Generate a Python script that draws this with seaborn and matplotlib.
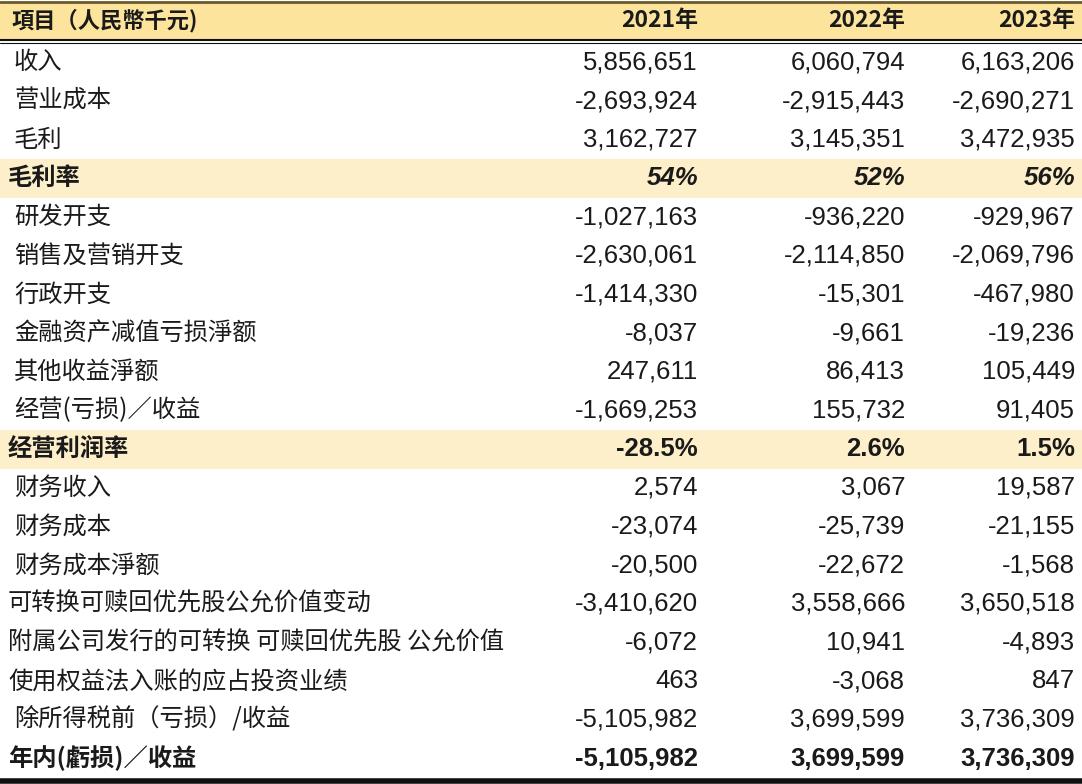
import matplotlib
matplotlib.use("Agg")
import matplotlib.pyplot as plt
import seaborn as sns

sns.set_theme(style="white", rc={"font.family": "Noto Sans CJK SC"})

header = ["項目（人民幣千元)", "2021年", "2022年", "2023年"]
items = ["收入", "营业成本", "毛利", "毛利率", "研发开支", "销售及营销开支", "行政开支",
         "金融资产减值亏损淨额", "其他收益淨额", "经营(亏损)／收益", "经营利润率",
         "财务收入", "财务成本", "财务成本淨额", "可转换可赎回优先股公允价值变动",
         "附属公司发行的可转换 可赎回优先股 公允价值", "使用权益法入账的应占投资业绩",
         "除所得税前（亏损）/收益", "年内(虧损)／收益"]
y2021 = ["5,856,651", "-2,693,924", "3,162,727", "54%", "-1,027,163", "-2,630,061", "-1,414,330",
         "-8,037", "247,611", "-1,669,253", "-28.5%", "2,574", "-23,074", "-20,500",
         "-3,410,620", "-6,072", "463", "-5,105,982", "-5,105,982"]
y2022 = ["6,060,794", "-2,915,443", "3,145,351", "52%", "-936,220", "-2,114,850", "-15,301",
         "-9,661", "86,413", "155,732", "2.6%", "3,067", "-25,739", "-22,672",
         "3,558,666", "10,941", "-3,068", "3,699,599", "3,699,599"]
y2023 = ["6,163,206", "-2,690,271", "3,472,935", "56%", "-929,967", "-2,069,796", "-467,980",
         "-19,236", "105,449", "91,405", "1.5%", "19,587", "-21,155", "-1,568",
         "3,650,518", "-4,893", "847", "3,736,309", "3,736,309"]
highlight = {"毛利率", "经营利润率"}

fig = plt.figure(figsize=(10.82, 7.84), dpi=100)
ax = fig.add_axes([0, 0, 1, 1])
ax.set_xlim(0, 1082)
ax.set_ylim(784, 0)
ax.axis("off")

# header
ax.add_patch(plt.Rectangle((0, 2), 1082, 37, color="#fde49c", lw=0))
ax.plot([0, 1082], [2, 2], color="#6b5a2a", lw=2)
ax.plot([0, 1082], [39.5, 39.5], color="#111111", lw=1.5)
ax.plot([0, 1082], [42.5, 42.5], color="#111111", lw=0.8)
hy = 20.5
ax.text(12, hy, header[0], ha="left", va="center", fontsize=16, fontweight="bold", color="#1a1a1a")
xs = [698, 905, 1075]
for x, t in zip(xs, header[1:]):
    ax.text(x, hy, t, ha="right", va="center", fontsize=16.5, fontweight="bold", color="#1a1a1a")

top, bottom = 43, 778
rh = (bottom - top) / len(items)
for i, name in enumerate(items):
    y0 = top + i * rh
    yc = y0 + rh / 2
    hl = name in highlight
    last = i == len(items) - 1
    if hl:
        ax.add_patch(plt.Rectangle((0, y0), 1082, rh, color="#fdefc9", lw=0))
    bold = hl or last
    style = "italic" if name == "毛利率" else "normal"
    lx = 8 if (bold or i in (14, 15, 16)) else 14
    ax.text(lx, yc, name, ha="left", va="center", fontsize=17.5,
            fontweight="bold" if bold else "normal", fontstyle=style, color="#1a1a1a")
    for x, col in zip(xs, (y2021, y2022, y2023)):
        ax.text(x, yc, col[i], ha="right", va="center", fontsize=18.5,
                fontweight="bold" if bold else "normal", fontstyle=style, color="#1a1a1a",
                family="Liberation Sans")
ax.plot([0, 1082], [780.5, 780.5], color="#111111", lw=4)

fig.savefig("out.png", dpi=100)
